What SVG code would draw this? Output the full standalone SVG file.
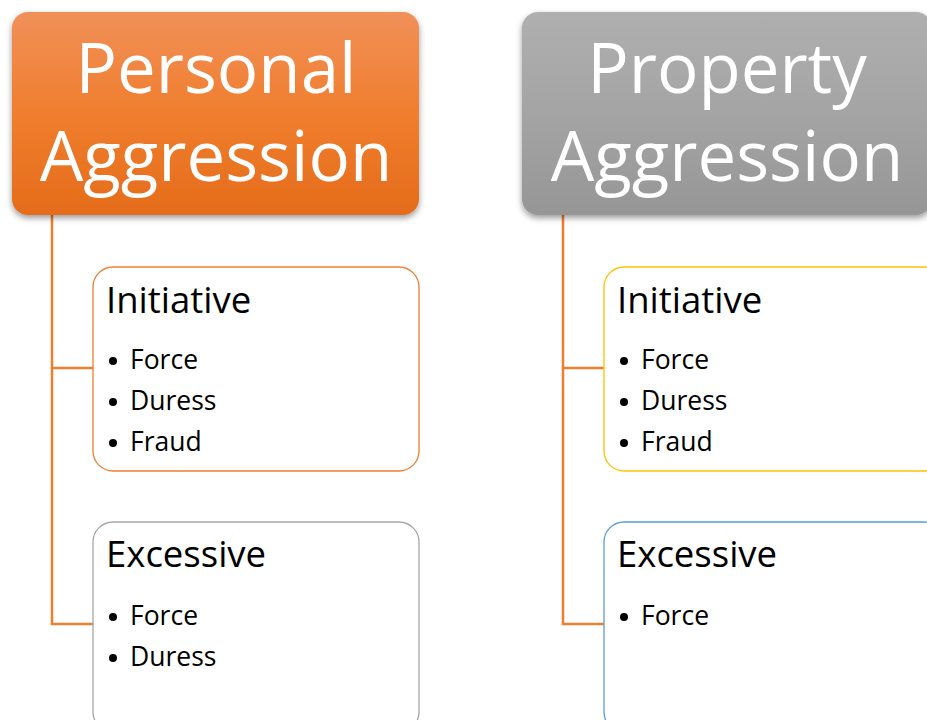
<svg xmlns="http://www.w3.org/2000/svg" width="927" height="720" viewBox="0 0 927 720">
<defs>
<linearGradient id="gOr" x1="0" y1="0" x2="0" y2="1">
<stop offset="0" stop-color="#F19059"/><stop offset="0.5" stop-color="#F07E2E"/><stop offset="1" stop-color="#E46C1A"/>
</linearGradient>
<linearGradient id="gGr" x1="0" y1="0" x2="0" y2="1">
<stop offset="0" stop-color="#AFAFAF"/><stop offset="0.5" stop-color="#A4A4A4"/><stop offset="1" stop-color="#969696"/>
</linearGradient>
<filter id="sh" x="-10%" y="-10%" width="120%" height="130%">
<feDropShadow dx="0" dy="3" stdDeviation="3" flood-color="#000" flood-opacity="0.4"/>
</filter>
<style>
.title{font-family:"Open Sans","Liberation Sans",sans-serif;font-size:69px;fill:#fff;text-anchor:middle}
.head{font-family:"Open Sans","Liberation Sans",sans-serif;font-size:36.5px;fill:#000}
.item{font-family:"Open Sans","Liberation Sans",sans-serif;font-size:26.5px;fill:#000}
.box{fill:#fff;stroke-width:1.3}
.conn{fill:none;stroke:#ED7D31;stroke-width:2.5}
.dot{fill:#000}
</style>
</defs>
<g id="connectors">
<path class="conn" d="M52,215 V624 H93 M52,368 H93"/>
<path class="conn" d="M563,215 V624 H604 M563,368 H604"/>
</g>
<g id="personal">
<rect x="12" y="12" width="407" height="203" rx="16" fill="url(#gOr)" filter="url(#sh)"/>
<text class="title" x="216" y="93">Personal</text>
<text class="title" x="216" y="181">Aggression</text>
</g>
<g id="property">
<rect x="522" y="12" width="410" height="203" rx="16" fill="url(#gGr)" filter="url(#sh)"/>
<text class="title" x="727" y="93">Property</text>
<text class="title" x="727" y="181">Aggression</text>
</g>
<g id="personal-initiative">
<rect class="box" x="93" y="267" width="326" height="204" rx="20" stroke="#ED7D31"/>
<text class="head" x="106" y="313">Initiative</text>
<circle class="dot" cx="113" cy="361" r="4"/><text class="item" x="130" y="369">Force</text>
<circle class="dot" cx="113" cy="402" r="4"/><text class="item" x="130" y="410">Duress</text>
<circle class="dot" cx="113" cy="443" r="4"/><text class="item" x="130" y="451">Fraud</text>
</g>
<g id="personal-excessive">
<rect class="box" x="93" y="522" width="326" height="210" rx="20" stroke="#A5A5A5"/>
<text class="head" x="106" y="567">Excessive</text>
<circle class="dot" cx="113" cy="617" r="4"/><text class="item" x="130" y="625">Force</text>
<circle class="dot" cx="113" cy="658" r="4"/><text class="item" x="130" y="666">Duress</text>
</g>
<g id="property-initiative">
<rect class="box" x="604" y="267" width="340" height="204" rx="20" stroke="#FFC000"/>
<text class="head" x="617" y="313">Initiative</text>
<circle class="dot" cx="624" cy="361" r="4"/><text class="item" x="641" y="369">Force</text>
<circle class="dot" cx="624" cy="402" r="4"/><text class="item" x="641" y="410">Duress</text>
<circle class="dot" cx="624" cy="443" r="4"/><text class="item" x="641" y="451">Fraud</text>
</g>
<g id="property-excessive">
<rect class="box" x="604" y="522" width="340" height="210" rx="20" stroke="#5B9BD5"/>
<text class="head" x="617" y="567">Excessive</text>
<circle class="dot" cx="624" cy="617" r="4"/><text class="item" x="641" y="625">Force</text>
</g>
</svg>
